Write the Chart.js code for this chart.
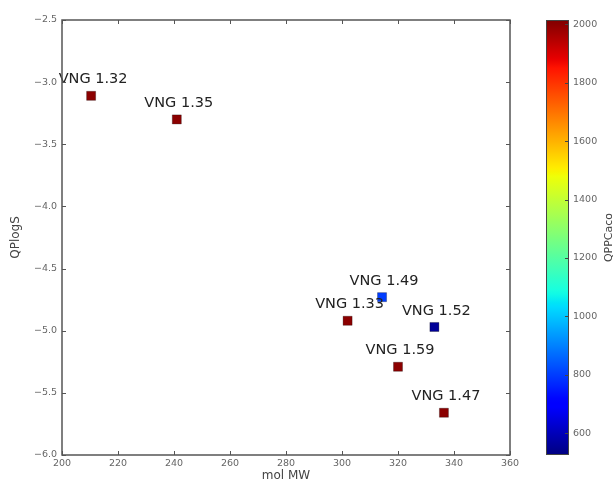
<!DOCTYPE html>
<html lang="en">
<head>
<meta charset="UTF-8">
<script src="https://cdn.jsdelivr.net/npm/chart.js"></script>
<title>QPlogS vs mol MW</title>
<style>
    body { margin: 0; background: #fff; }
    .wrap { position: relative; width: 615px; height: 482px; }
    .wrap canvas { position: absolute; left: 0; top: 0; }
</style>
</head>
<body>
<div class="wrap">
    <canvas id="mainChart" width="615" height="482"></canvas>
    <canvas id="barChart" width="615" height="482"></canvas>
</div>
<script>
const names = ["VNG 1.32", "VNG 1.35", "VNG 1.49", "VNG 1.33", "VNG 1.52", "VNG 1.59", "VNG 1.47"];
const molMW = [210.4, 241, 314.3, 302, 333, 320, 336.4];
const qplogs = [-3.11, -3.30, -4.73, -4.92, -4.97, -5.29, -5.66];
const qppcaco = [2000, 2000, 800, 2000, 555, 2000, 2000];

const xTicks = [200, 220, 240, 260, 280, 300, 320, 340, 360];
const yTicks = [-6.0, -5.5, -5.0, -4.5, -4.0, -3.5, -3.0, -2.5];
const cbTicks = [600, 800, 1000, 1200, 1400, 1600, 1800, 2000];
const cbMin = 525, cbMax = 2015;

const FONT = "DejaVu Sans";
const TICK_COLOR = "#666";
const TICK_SIZE = 9.5;

// matplotlib "jet" colormap
const jetR = [[0, 0], [0.35, 0], [0.66, 1], [0.89, 1], [1, 0.5]];
const jetG = [[0, 0], [0.125, 0], [0.375, 1], [0.64, 1], [0.91, 0], [1, 0]];
const jetB = [[0, 0.5], [0.11, 1], [0.34, 1], [0.65, 0], [1, 0]];
function interp(pts, t) {
    for (let i = 1; i < pts.length; i++) {
        if (t <= pts[i][0]) {
            const [x0, y0] = pts[i - 1], [x1, y1] = pts[i];
            return y0 + (y1 - y0) * (t - x0) / (x1 - x0);
        }
    }
    return pts[pts.length - 1][1];
}
function jet(t) {
    t = Math.max(0, Math.min(1, t));
    const c = v => Math.round(v * 255);
    return `rgb(${c(interp(jetR, t))},${c(interp(jetG, t))},${c(interp(jetB, t))})`;
}
const pointColors = qppcaco.map(v => jet((v - cbMin) / (cbMax - cbMin)));

function fmtMinus(v, d) {
    const s = Math.abs(v).toFixed(d);
    return v < 0 ? "\u2212" + s : s;
}

// frame on all four sides with inward ticks
const framePlugin = {
    id: "frame",
    afterDraw(chart) {
        const { ctx, chartArea: a, scales } = chart;
        ctx.save();
        ctx.strokeStyle = "#555";
        ctx.lineWidth = 1.5;
        ctx.strokeRect(a.left, a.top, a.right - a.left, a.bottom - a.top);
        ctx.lineWidth = 1;
        ctx.beginPath();
        xTicks.forEach(v => {
            const px = Math.round(scales.x.getPixelForValue(v)) + 0.5;
            ctx.moveTo(px, a.bottom); ctx.lineTo(px, a.bottom - 4);
            ctx.moveTo(px, a.top); ctx.lineTo(px, a.top + 4);
        });
        yTicks.forEach(v => {
            const py = Math.round(scales.y.getPixelForValue(v)) + 0.5;
            ctx.moveTo(a.left, py); ctx.lineTo(a.left + 4, py);
            ctx.moveTo(a.right, py); ctx.lineTo(a.right - 4, py);
        });
        ctx.stroke();
        ctx.restore();
    }
};

const labelPlugin = {
    id: "pointLabels",
    afterDatasetsDraw(chart) {
        const { ctx } = chart;
        const meta = chart.getDatasetMeta(0);
        ctx.save();
        ctx.font = `14.5px "${FONT}"`;
        ctx.fillStyle = "#222";
        ctx.textAlign = "center";
        ctx.textBaseline = "bottom";
        meta.data.forEach((pt, i) => {
            ctx.fillText(names[i], pt.x + 2, pt.y - 9);
        });
        ctx.restore();
    }
};

new Chart(document.getElementById("mainChart"), {
    type: "scatter",
    data: {
        datasets: [{
            data: molMW.map((x, i) => ({ x: x, y: qplogs[i] })),
            pointStyle: "rect",
            pointRadius: 6.4,
            pointHoverRadius: 6.4,
            backgroundColor: pointColors,
            borderColor: "rgba(0,0,0,0.45)",
            borderWidth: 0.6
        }]
    },
    options: {
        responsive: false,
        animation: false,
        layout: { padding: { left: 0, top: 20, right: 105, bottom: 0 } },
        plugins: { legend: { display: false }, tooltip: { enabled: false } },
        scales: {
            x: {
                type: "linear",
                min: 200, max: 360,
                afterBuildTicks: s => { s.ticks = xTicks.map(v => ({ value: v })); },
                afterFit: s => { s.height = 27; },
                grid: { display: false, drawTicks: false },
                border: { display: false },
                ticks: {
                    font: { family: FONT, size: TICK_SIZE }, color: TICK_COLOR, padding: 3,
                    maxRotation: 0, callback: v => String(v)
                },
                title: {
                    display: true, text: "mol MW",
                    font: { family: FONT, size: 12, lineHeight: 1.0 }, color: "#444",
                    padding: { top: 0, bottom: 0 }
                }
            },
            y: {
                type: "linear",
                min: -6.0, max: -2.5,
                afterBuildTicks: s => { s.ticks = yTicks.map(v => ({ value: v })); },
                afterFit: s => { s.width = 62; },
                grid: { display: false, drawTicks: false },
                border: { display: false },
                ticks: {
                    font: { family: FONT, size: TICK_SIZE }, color: TICK_COLOR, padding: 5,
                    callback: v => fmtMinus(v, 1)
                },
                title: {
                    display: true, text: "QPlogS",
                    font: { family: FONT, size: 12 }, color: "#444", padding: { top: 9, bottom: 0 }
                }
            }
        }
    },
    plugins: [framePlugin, labelPlugin]
});

// colorbar
const colorbarPlugin = {
    id: "colorbar",
    beforeDraw(chart) {
        const { ctx, chartArea: a } = chart;
        ctx.save();
        const g = ctx.createLinearGradient(0, a.bottom, 0, a.top);
        for (let i = 0; i <= 100; i++) g.addColorStop(i / 100, jet(i / 100));
        ctx.fillStyle = g;
        ctx.fillRect(a.left, a.top, a.right - a.left, a.bottom - a.top);
        ctx.restore();
    },
    afterDraw(chart) {
        const { ctx, chartArea: a, scales } = chart;
        ctx.save();
        ctx.strokeStyle = "#444";
        ctx.lineWidth = 1;
        ctx.strokeRect(a.left + 0.5, a.top + 0.5, a.right - a.left - 1, a.bottom - a.top - 1);
        ctx.beginPath();
        cbTicks.forEach(v => {
            const py = Math.round(scales.y.getPixelForValue(v)) + 0.5;
            ctx.moveTo(a.right, py); ctx.lineTo(a.right - 4, py);
        });
        ctx.stroke();
        ctx.translate(609, (a.top + a.bottom) / 2);
        ctx.rotate(-Math.PI / 2);
        ctx.font = `11px "${FONT}"`;
        ctx.fillStyle = "#444";
        ctx.textAlign = "center";
        ctx.textBaseline = "middle";
        ctx.fillText("QPPCaco", 0, 0);
        ctx.restore();
    }
};

new Chart(document.getElementById("barChart"), {
    type: "scatter",
    data: { datasets: [{ data: [] }] },
    options: {
        responsive: false,
        animation: false,
        layout: { padding: { left: 546, top: 20, right: 0, bottom: 27 } },
        plugins: { legend: { display: false }, tooltip: { enabled: false } },
        scales: {
            x: { display: false, min: 0, max: 1 },
            y: {
                position: "right",
                min: cbMin, max: cbMax,
                afterBuildTicks: s => { s.ticks = cbTicks.map(v => ({ value: v })); },
                afterFit: s => { s.width = 46; },
                grid: { display: false, drawTicks: false },
                border: { display: false },
                ticks: {
                    font: { family: FONT, size: TICK_SIZE }, color: TICK_COLOR, padding: 4,
                    callback: v => String(v)
                }
            }
        }
    },
    plugins: [colorbarPlugin]
});
</script>
</body>
</html>
